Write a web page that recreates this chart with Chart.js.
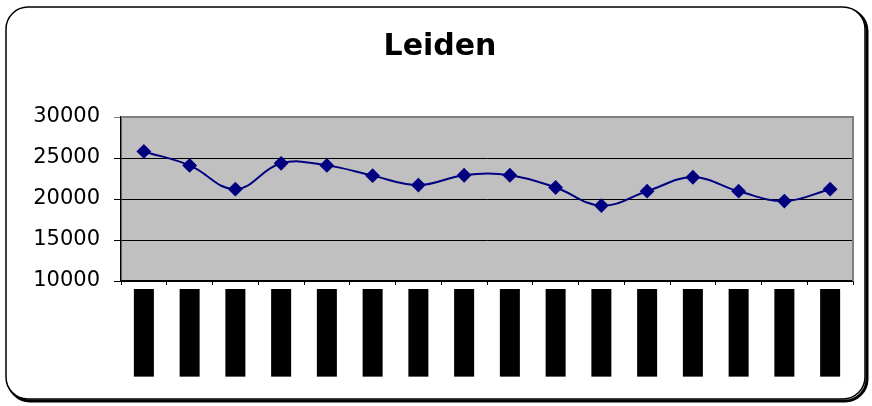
<!DOCTYPE html>
<html>
<head>
<meta charset="utf-8">
<script src="https://cdn.jsdelivr.net/npm/chart.js@4/dist/chart.umd.min.js"></script>
<style>
  html, body { margin: 0; padding: 0; background: #fff; }
  #wrap { width: 872px; height: 406px; }
</style>
</head>
<body>
<div id="wrap"><canvas id="c" width="872" height="406"></canvas></div>
<script>
// Leiden: yearly values
const categories = ['1990','1991','1992','1993','1994','1995','1996','1997',
                    '1998','1999','2000','2001','2002','2003','2004','2005'];
const leiden = [25800, 24100, 21200, 24350, 24100, 22850, 21700, 22900,
                22900, 21400, 19200, 20950, 22650, 20950, 19750, 21200];
const yTicks = [10000, 15000, 20000, 25000, 30000];

const FONT = "'DejaVu Sans', 'Liberation Sans', Arial, sans-serif";

function roundRect(ctx, x, y, w, h, r) {
  ctx.beginPath();
  ctx.moveTo(x + r, y);
  ctx.lineTo(x + w - r, y);
  ctx.arcTo(x + w, y, x + w, y + r, r);
  ctx.lineTo(x + w, y + h - r);
  ctx.arcTo(x + w, y + h, x + w - r, y + h, r);
  ctx.lineTo(x + r, y + h);
  ctx.arcTo(x, y + h, x, y + h - r, r);
  ctx.lineTo(x, y + r);
  ctx.arcTo(x, y, x + r, y, r);
  ctx.closePath();
}

// frame around the chart and the grey plot area
const framePlugin = {
  id: 'frame',
  beforeDraw(chart) {
    const ctx = chart.ctx;
    const a = chart.chartArea;
    ctx.save();
    ctx.fillStyle = '#fff';
    ctx.fillRect(0, 0, chart.width, chart.height);
    // drop shadow
    roundRect(ctx, 8, 9, 859, 392, 22);
    ctx.lineWidth = 3;
    ctx.strokeStyle = '#000';
    ctx.stroke();
    roundRect(ctx, 6, 7, 859, 392, 22);
    ctx.fillStyle = '#fff';
    ctx.fill();
    ctx.lineWidth = 1.5;
    ctx.strokeStyle = '#000';
    ctx.stroke();
    ctx.fillStyle = '#c0c0c0';
    ctx.fillRect(a.left, a.top, a.right - a.left, a.bottom - a.top);
    ctx.restore();
  },
  beforeDatasetsDraw(chart) {
    const ctx = chart.ctx;
    const a = chart.chartArea;
    ctx.save();
    ctx.strokeStyle = '#808080';
    ctx.lineWidth = 2;
    ctx.beginPath();
    ctx.moveTo(a.left, a.top);
    ctx.lineTo(a.right, a.top);
    ctx.lineTo(a.right, a.bottom);
    ctx.stroke();
    ctx.restore();
  }
};

new Chart(document.getElementById('c'), {
  type: 'line',
  data: {
    labels: categories,
    datasets: [{
      label: 'Leiden',
      data: leiden,
      borderColor: '#000080',
      backgroundColor: '#000080',
      borderWidth: 2,
      tension: 0.4,
      pointStyle: 'rectRot',
      pointRadius: 6,
      pointHoverRadius: 6,
      pointBackgroundColor: '#000080',
      pointBorderColor: '#000080',
      fill: false
    }]
  },
  options: {
    responsive: false,
    animation: false,
    events: [],
    layout: { padding: { left: 27, right: 19, top: 0, bottom: 0 } },
    plugins: {
      legend: { display: false },
      tooltip: { enabled: false },
      title: {
        display: true,
        text: 'Leiden',
        color: '#000',
        font: { family: FONT, size: 30, weight: 'bold', lineHeight: 1.2 },
        padding: { top: 29, bottom: 52 }
      }
    },
    scales: {
      x: {
        offset: true,
        grid: {
          offset: true,
          drawOnChartArea: false,
          drawTicks: true,
          tickLength: 4,
          color: '#000'
        },
        border: { display: true, color: '#000', width: 1.5 },
        ticks: {
          autoSkip: false,
          minRotation: 90,
          maxRotation: 90,
          padding: 6,
          labelOffset: -8.4,
          color: '#000',
          font: { family: FONT, size: 14 },
          showLabelBackdrop: true,
          backdropColor: '#000',
          backdropPadding: { top: 1.6, bottom: 1.6, left: 50, right: 2 }
        },
        afterFit(scale) { scale.height = 125; }
      },
      y: {
        min: 10000,
        max: 30000,
        afterBuildTicks(axis) { axis.ticks = yTicks.map(v => ({ value: v })); },
        grid: {
          color: c => (c.tick && c.tick.value === 30000) ? '#808080' : '#000',
          lineWidth: 1,
          drawTicks: true,
          tickLength: 7
        },
        border: { display: true, color: '#000', width: 1.5 },
        ticks: {
          padding: 14,
          color: '#000',
          font: { family: FONT, size: 21 },
          callback: v => String(v)
        },
        afterFit(scale) { scale.width = 94; }
      }
    }
  },
  plugins: [framePlugin]
});
</script>
</body>
</html>
